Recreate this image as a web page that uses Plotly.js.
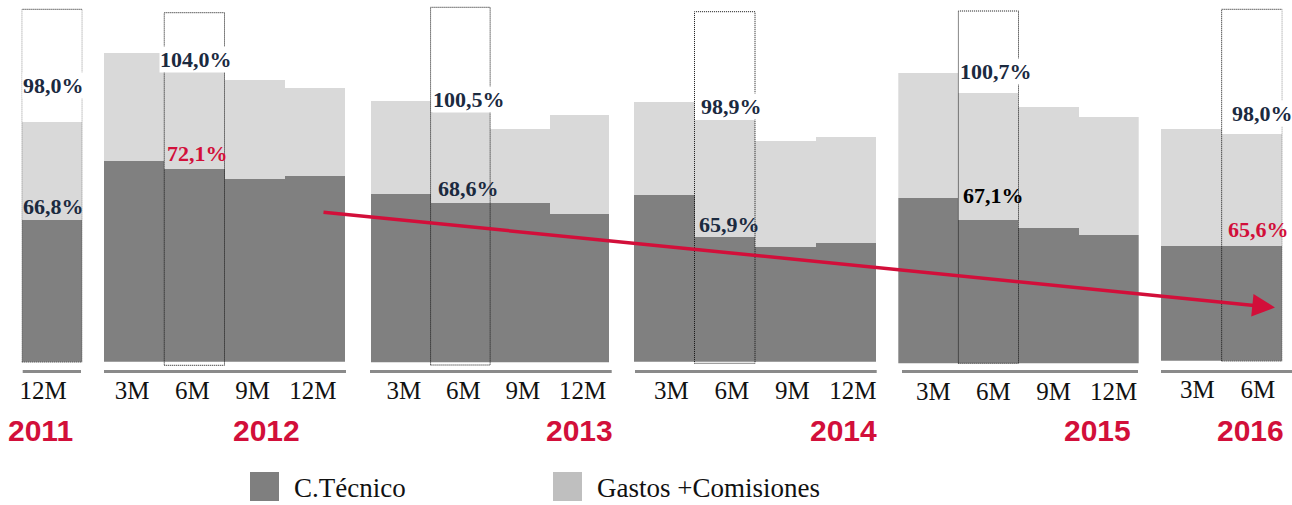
<!DOCTYPE html>
<html>
<head>
<meta charset="utf-8">
<script src="https://cdn.plot.ly/plotly-3.0.1.min.js"></script>
<style>
html,body{margin:0;padding:0;background:#fff;}
#chart{width:1292px;height:505px;}
</style>
</head>
<body>
<div id="chart"></div>
<script>
// ---- data ----
const years = ['2011', '2012', '2013', '2014', '2015', '2016'];
const periods = [
  ['12M'],
  ['3M', '6M', '9M', '12M'],
  ['3M', '6M', '9M', '12M'],
  ['3M', '6M', '9M', '12M'],
  ['3M', '6M', '9M', '12M'],
  ['3M', '6M']
];
const cTecnico = [
  [66.8],
  [74.5, 72.1, 68.9, 69.8],
  [71.7, 68.6, 68.6, 65.0],
  [77.7, 65.9, 63.1, 64.2],
  [72.9, 67.1, 64.9, 63.1],
  [65.6, 65.6]
];
const gastosComisiones = [
  [31.2],
  [33.3, 31.9, 30.5, 27.0],
  [32.6, 31.9, 25.9, 34.4],
  [26.2, 33.0, 30.0, 29.9],
  [32.9, 33.6, 32.1, 31.3],
  [33.8, 32.4]
];
const combinedRatio = [
  [98.0],
  [107.8, 104.0, 99.4, 96.8],
  [104.3, 100.5, 94.5, 99.4],
  [103.9, 98.9, 93.1, 94.1],
  [105.8, 100.7, 97.0, 94.4],
  [99.4, 98.0]
];
const highlighted = [0, 1, 1, 1, 1, 1];   // index of the boxed period in each year
const seriesNames = ['C.Técnico', 'Gastos +Comisiones'];

// ---- styling / layout constants ----
const W = 1292, H = 505;
const DARK = '#808080', LIGHT = '#d9d9d9';
const LEG_DARK = '#7f7f7f', LEG_LIGHT = '#bfbfbf';
const RED = '#d20f3a', NAVY = '#1b2a3f';
const ctecLabelColor = [NAVY, RED, NAVY, NAVY, '#000000', RED];
const panelPx = [[21.7, 82.3], [104, 345], [371, 609.3], [634, 876], [898.3, 1138.7], [1161, 1282.3]];
const baselinePx = [361.7, 361.7, 362.3, 361.7, 363.3, 360.7];
const yRanges = [[21.69, 136.84], [12.73, 123.99], [13.22, 139.41], [30.55, 132.84], [29.28, 125.16], [32.42, 136.76]];
const tickShift = [-9, -2, 3, 7, 5, 6];
const boxPx = [[9.3, 362], [12.7, 365.3], [7.3, 365], [11.7, 363.3], [11, 363.3], [9.3, 361]];
const underlinePx = [[22.7, 81], [104, 346], [370, 611.7], [635, 876.7], [902, 1138], [1161, 1292]];
const totalLabelPx = [[54, 85], [196, 59.3], [468.5, 100], [731, 106.7], [996, 71.7], [1262, 113.3]];
const ctecLabelPx = [[53, 206.7], [197.5, 153.3], [469, 188.3], [729.5, 225], [993.5, 195], [1258, 230]];
const yearLabelPx = [40, 266, 579, 843, 1097, 1250];

const px2x = p => p / W;
const px2y = p => (H - p) / H;
const fmt = v => v.toFixed(1).replace('.', ',') + '%';

const data = [];
const layout = {
  width: W, height: H,
  margin: {l: 0, r: 0, t: 0, b: 0},
  paper_bgcolor: '#ffffff', plot_bgcolor: 'rgba(0,0,0,0)',
  barmode: 'stack', bargap: 0,
  showlegend: false,
  shapes: [], annotations: []
};

years.forEach((yr, i) => {
  const n = i + 1;
  const xa = n === 1 ? 'x' : 'x' + n;
  const ya = n === 1 ? 'y' : 'y' + n;
  const xkey = n === 1 ? 'xaxis' : 'xaxis' + n;
  const ykey = n === 1 ? 'yaxis' : 'yaxis' + n;

  data.push({
    type: 'bar', x: periods[i], y: cTecnico[i], name: seriesNames[0],
    xaxis: xa, yaxis: ya, marker: {color: DARK, line: {width: 0}}, hoverinfo: 'skip'
  });
  data.push({
    type: 'bar', x: periods[i], y: gastosComisiones[i], name: seriesNames[1],
    xaxis: xa, yaxis: ya, marker: {color: LIGHT, line: {width: 0}}, hoverinfo: 'skip'
  });

  layout[xkey] = {
    domain: [px2x(panelPx[i][0]), px2x(panelPx[i][1])],
    anchor: ya, type: 'category',
    range: [-0.5, periods[i].length - 0.5],
    showgrid: false, zeroline: false, showline: false, ticks: '',
    tickfont: {family: 'Liberation Serif', size: 25, color: '#111111'},
    ticklabelstandoff: 11, ticklabelshift: tickShift[i], fixedrange: true
  };
  layout[ykey] = {
    domain: [px2y(baselinePx[i]), 1],
    anchor: xa, range: yRanges[i],
    visible: false, showgrid: false, zeroline: false, fixedrange: true
  };

  // dotted highlight box
  const h = highlighted[i];
  layout.shapes.push({
    type: 'rect', xref: xa, yref: 'paper',
    x0: h - 0.5, x1: h + 0.5,
    y0: px2y(boxPx[i][1]), y1: px2y(boxPx[i][0]),
    line: {color: '#111111', width: 1, dash: '1px,1px'}, fillcolor: 'rgba(0,0,0,0)', layer: 'above'
  });
  // underline of the year group
  layout.shapes.push({
    type: 'line', xref: 'paper', yref: 'paper',
    x0: px2x(underlinePx[i][0]), x1: px2x(underlinePx[i][1]),
    y0: px2y(371.5), y1: px2y(371.5),
    line: {color: '#8a8a8a', width: 3}
  });

  // value labels
  layout.annotations.push({
    xref: 'paper', yref: 'paper',
    x: px2x(totalLabelPx[i][0]), y: px2y(totalLabelPx[i][1]),
    text: '<b>' + fmt(combinedRatio[i][h]) + '</b>', showarrow: false,
    xanchor: 'center', yanchor: 'middle', bgcolor: '#ffffff', borderpad: 0,
    font: {family: 'Liberation Serif', size: 22, color: NAVY}
  });
  layout.annotations.push({
    xref: 'paper', yref: 'paper',
    x: px2x(ctecLabelPx[i][0]), y: px2y(ctecLabelPx[i][1]),
    text: '<b>' + fmt(cTecnico[i][h]) + '</b>', showarrow: false,
    xanchor: 'center', yanchor: 'middle',
    font: {family: 'Liberation Serif', size: 22, color: ctecLabelColor[i]}
  });
  // year label
  layout.annotations.push({
    xref: 'paper', yref: 'paper',
    x: px2x(yearLabelPx[i]), y: px2y(430),
    text: '<b>' + yr + '</b>', showarrow: false,
    xanchor: 'center', yanchor: 'middle',
    font: {family: 'Liberation Sans', size: 30, color: RED}
  });
});

// trend arrow
layout.annotations.push({
  xref: 'paper', yref: 'paper',
  x: px2x(1275), y: px2y(307.5),
  axref: 'pixel', ayref: 'pixel', ax: 322 - 1275, ay: 212 - 307.5,
  text: '', showarrow: true, arrowhead: 2, arrowsize: 1.3, arrowwidth: 3.5,
  arrowcolor: RED, standoff: 0
});

// legend (drawn manually for the large swatches)
const legendItems = [
  {name: seriesNames[0], color: LEG_DARK, x: 250},
  {name: seriesNames[1], color: LEG_LIGHT, x: 553}
];
legendItems.forEach(it => {
  layout.shapes.push({
    type: 'rect', xref: 'paper', yref: 'paper',
    x0: px2x(it.x), x1: px2x(it.x + 29), y0: px2y(501), y1: px2y(472),
    fillcolor: it.color, line: {width: 0}
  });
  layout.annotations.push({
    xref: 'paper', yref: 'paper',
    x: px2x(it.x + 43), y: px2y(488),
    text: it.name, showarrow: false, xanchor: 'left', yanchor: 'middle', borderpad: 0,
    font: {family: 'Liberation Serif', size: 27, color: '#111111'}
  });
});

Plotly.newPlot('chart', data, layout, {staticPlot: true, displayModeBar: false});
</script>
</body>
</html>
